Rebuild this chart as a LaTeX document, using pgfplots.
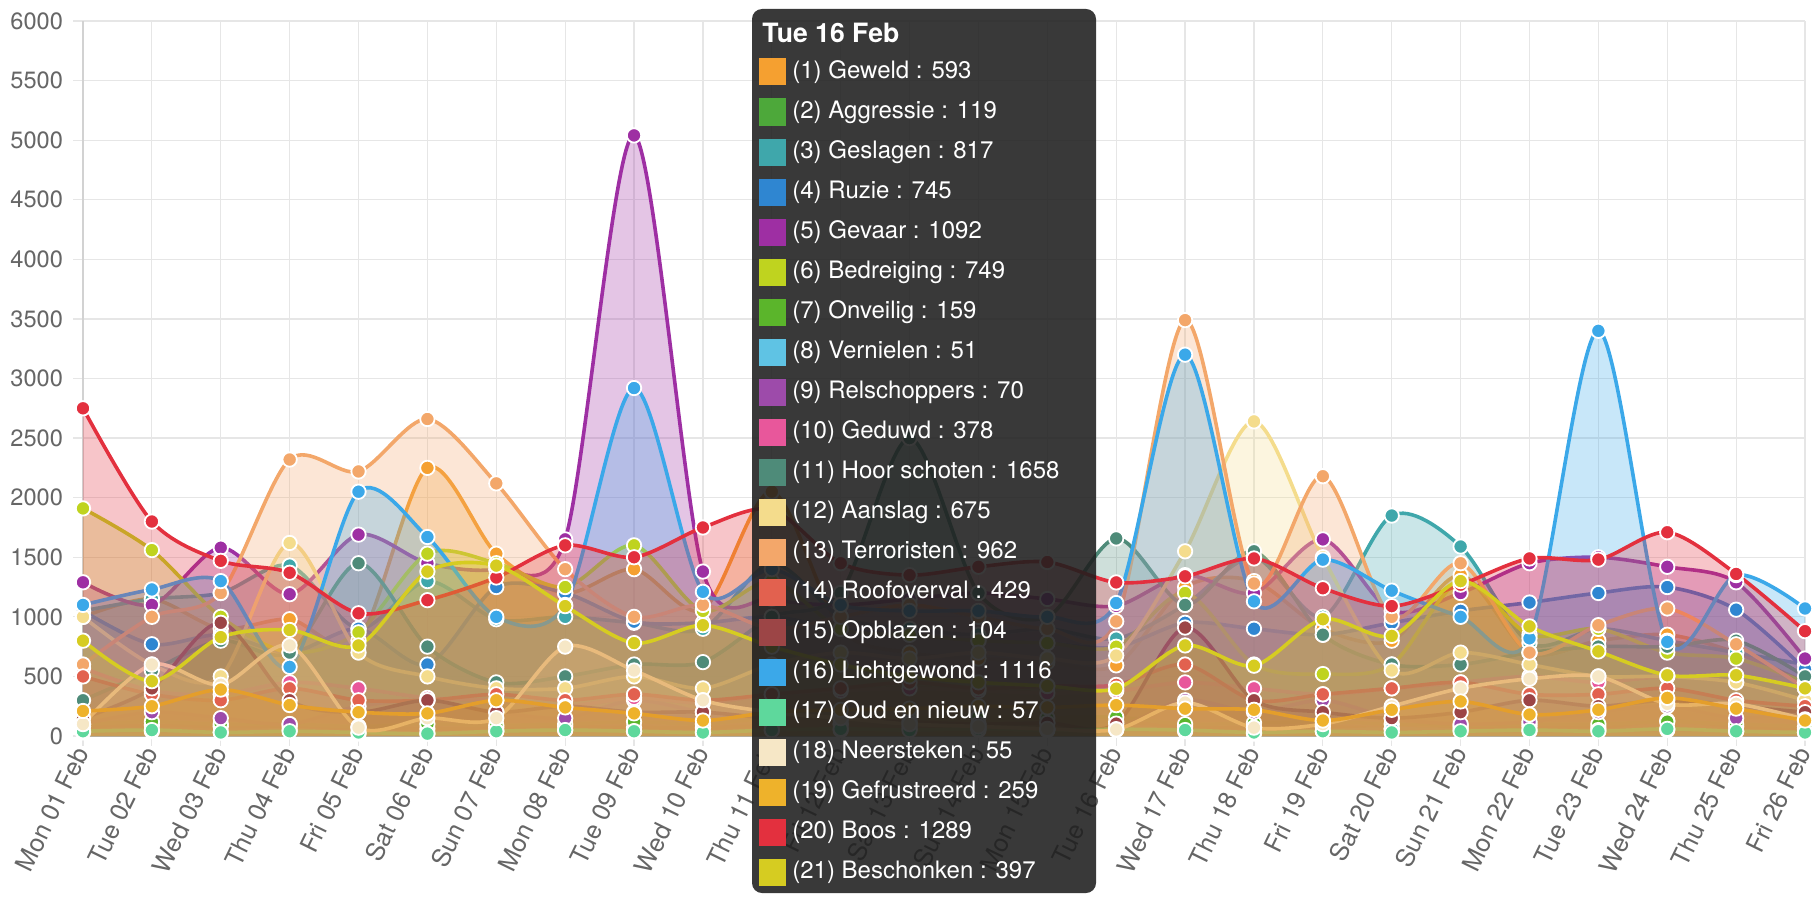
\documentclass[border=0pt]{standalone}
\usepackage{pgfplots}
\usepackage{pgfplotstable}
\pgfplotsset{compat=1.18}
\usepackage{fontspec}
\setmainfont{TeX Gyre Heros}
\definecolor{c1}{HTML}{F5A030}
\definecolor{c2}{HTML}{4DA83A}
\definecolor{c3}{HTML}{3FA7AB}
\definecolor{c4}{HTML}{2F86D1}
\definecolor{c5}{HTML}{9E2FA3}
\definecolor{c6}{HTML}{BFD31F}
\definecolor{c7}{HTML}{5BB52B}
\definecolor{c8}{HTML}{5FC3E4}
\definecolor{c9}{HTML}{9D4BAA}
\definecolor{c10}{HTML}{E8579B}
\definecolor{c11}{HTML}{4E8B79}
\definecolor{c12}{HTML}{F4DC8C}
\definecolor{c13}{HTML}{F3A76A}
\definecolor{c14}{HTML}{E2614F}
\definecolor{c15}{HTML}{9C4546}
\definecolor{c16}{HTML}{3BA8E9}
\definecolor{c17}{HTML}{5ED89C}
\definecolor{c18}{HTML}{F6E7C6}
\definecolor{c19}{HTML}{EEB22B}
\definecolor{c20}{HTML}{E3303E}
\definecolor{c21}{HTML}{D6CC21}
\definecolor{gridc}{HTML}{E6E6E6}
\definecolor{axc}{HTML}{D2D2D2}
\definecolor{tickc}{HTML}{666666}
\definecolor{tipbg}{HTML}{1E1E1E}

\pgfplotstableread{
x s1 s2 s3 s4 s5 s6 s7 s8 s9 s10 s11 s12 s13 s14 s15 s16 s17 s18 s19 s20 s21
0 1000 80 1050 1050 1290 1910 100 30 100 570 300 1000 600 500 150 1100 40 100 210 2750 800
1 1150 90 1150 770 1100 1560 120 40 200 380 550 600 1000 350 400 1230 50 600 250 1800 460
2 900 80 1200 850 1580 1000 100 30 150 350 800 500 1200 300 950 1300 30 430 390 1470 830
3 980 80 1430 700 1190 700 100 50 100 450 700 1620 2320 400 300 580 40 760 260 1370 890
4 800 70 900 900 1690 870 80 20 250 400 1450 700 2220 300 200 2050 30 70 200 1030 760
5 2250 60 1300 600 1450 1530 100 20 300 320 750 500 2660 300 300 1670 20 150 190 1140 1380
6 1530 70 980 1250 1400 1450 90 40 200 300 450 400 2120 350 200 1000 40 150 300 1330 1430
7 1200 80 1000 1200 1650 1250 100 50 150 250 500 400 1400 300 250 1100 50 750 240 1600 1090
8 1400 70 950 960 5040 1600 120 40 300 320 600 500 1000 350 200 2920 40 550 190 1500 780
9 1060 70 900 950 1380 1050 100 30 200 280 620 400 1100 300 200 1210 30 300 130 1750 930
10 2050 90 1450 1000 1150 1300 150 50 150 350 1000 600 900 350 150 1400 50 200 200 1900 750
11 900 100 1000 900 1100 900 140 50 100 380 1200 700 1000 400 150 1100 60 150 220 1450 600
12 700 110 900 850 1150 850 150 60 80 400 2500 650 1100 450 120 1050 50 100 230 1350 500
13 650 100 850 800 1200 800 160 50 70 380 1200 700 1000 400 100 1050 60 80 250 1420 450
14 620 110 900 780 1150 780 150 50 60 360 1000 650 900 420 110 1000 50 60 240 1460 420
15 593 119 817 745 1092 749 159 51 70 378 1658 675 962 429 104 1116 57 55 259 1289 397
16 1250 80 1100 950 1350 1200 100 40 300 450 1100 1550 3490 600 910 3200 50 280 230 1340 760
17 1300 70 1500 900 1200 600 110 20 200 400 1550 2640 1280 300 300 1130 30 70 220 1490 590
18 900 80 1000 850 1650 520 120 40 300 350 850 1500 2180 350 200 1480 40 100 130 1240 980
19 800 60 1850 950 1050 600 100 60 150 400 600 550 1000 400 150 1220 30 250 220 1090 840
20 1350 70 1590 1050 1200 1300 90 50 100 450 600 700 1450 450 200 1000 40 400 290 1270 1300
21 700 80 780 1120 1450 850 100 40 120 500 700 600 700 350 300 820 50 480 180 1490 920
22 800 70 900 1200 1500 900 100 50 200 450 750 500 930 350 250 3400 40 500 220 1480 710
23 850 130 800 1250 1420 700 120 50 250 500 750 500 1070 400 300 790 60 270 320 1710 510
24 700 80 700 1060 1290 650 100 40 150 450 800 450 770 300 250 1350 40 270 230 1360 510
25 450 60 600 560 650 450 80 30 200 300 500 300 400 250 200 1070 30 140 130 880 400
}\data

\newcommand{\tipfont}{\fontsize{12}{15}\selectfont}

\begin{document}
\begin{tikzpicture}
\useasboundingbox (-41.5pt,-80pt) rectangle (868pt,368pt);
\begin{axis}[
  at={(0,0)}, anchor=south west,
  scale only axis, width=861pt, height=357.5pt,
  xmin=0, xmax=25, ymin=0, ymax=6000,
  xtick={0,...,25},
  xticklabels={Mon 01 Feb, Tue 02 Feb, Wed 03 Feb, Thu 04 Feb, Fri 05 Feb, Sat 06 Feb, Sun 07 Feb, Mon 08 Feb, Tue 09 Feb, Wed 10 Feb, Thu 11 Feb, Fri 12 Feb, Sat 13 Feb, Sun 14 Feb, Mon 15 Feb, Tue 16 Feb, Wed 17 Feb, Thu 18 Feb, Fri 19 Feb, Sat 20 Feb, Sun 21 Feb, Mon 22 Feb, Tue 23 Feb, Wed 24 Feb, Thu 25 Feb, Fri 26 Feb},
  ytick={0,500,...,6000},
  yticklabels={0,500,1000,1500,2000,2500,3000,3500,4000,4500,5000,5500,6000},
  grid=major,
  major grid style={draw=gridc, line width=0.6pt},
  axis line style={draw=axc, line width=0.6pt},
  axis x line*=bottom, axis y line*=left,
  tick align=outside, major tick length=5pt,
  tick style={draw=gridc, line width=0.6pt},
  tick label style={text=tickc, font=\fontsize{11.8}{13}\selectfont},
  yticklabel style={xshift=-1.5pt},
  xticklabel style={rotate=64, anchor=east, inner sep=1.5pt, font=\fontsize{12.6}{14}\selectfont},
  clip=true,
]
\pgfplotsinvokeforeach{1,...,21}{
  \addplot[draw=none, fill=c#1, fill opacity=0.28, smooth, tension=0.5, forget plot]
    table[x=x, y=s#1]{\data} \closedcycle;
  \addplot[c#1, line width=1.8pt, smooth, tension=0.5, mark=*, mark size=3.6pt,
    mark options={solid, fill=c#1, draw=white, line width=0.9pt}]
    table[x=x, y=s#1]{\data};
}
\end{axis}
% tooltip
\fill[tipbg, fill opacity=0.88, rounded corners=5pt] (334.5pt,-78.5pt) rectangle (506.5pt,363.5pt);
\node[anchor=west, inner sep=0, text=white, font=\bfseries\fontsize{13.3}{16}\selectfont] at (339.5pt,351.5pt) {Tue 16 Feb};
\foreach \i/\n/\v in {1/Geweld/593, 2/Aggressie/119, 3/Geslagen/817, 4/Ruzie/745, 5/Gevaar/1092, 6/Bedreiging/749, 7/Onveilig/159, 8/Vernielen/51, 9/Relschoppers/70, 10/Geduwd/378, 11/Hoor schoten/1658, 12/Aanslag/675, 13/Terroristen/962, 14/Roofoverval/429, 15/Opblazen/104, 16/Lichtgewond/1116, 17/Oud en nieuw/57, 18/Neersteken/55, 19/Gefrustreerd/259, 20/Boos/1289, 21/Beschonken/397}{
  \pgfmathsetmacro\yy{332-20*(\i-1)}
  \fill[c\i] (338pt,\yy pt-6.75pt) rectangle ++(13.5pt,13.5pt);
  \node[anchor=west, inner sep=0, text=white, font=\tipfont] at (354.5pt,\yy pt) {(\i) \n{} : \v};
}
\end{tikzpicture}
\end{document}
